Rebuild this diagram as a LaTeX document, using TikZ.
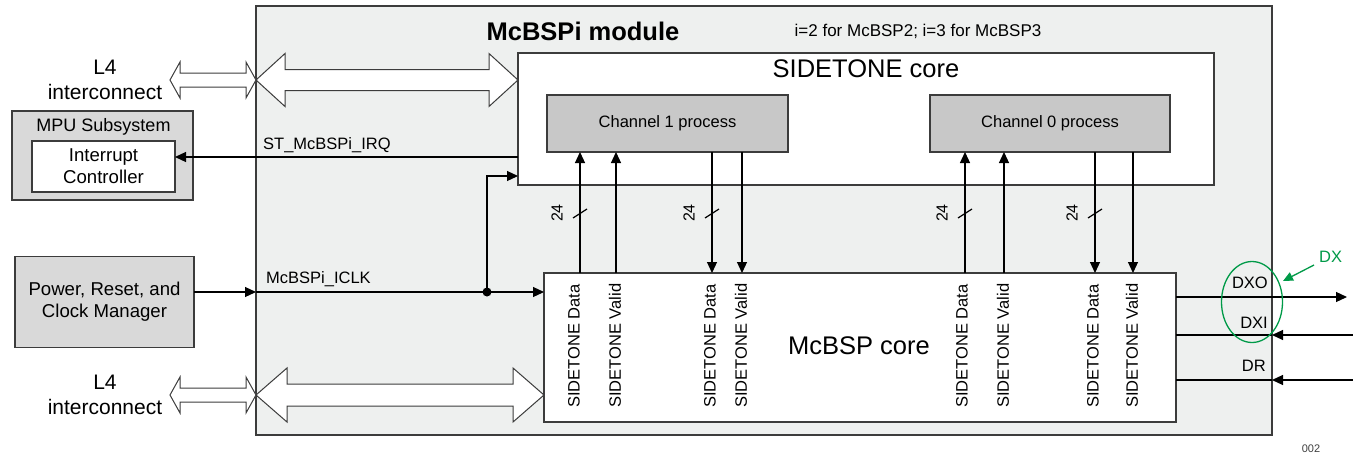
\documentclass[tikz,border=0pt]{standalone}
\usepackage{fontspec}
\setmainfont{Liberation Sans}
\usetikzlibrary{arrows.meta}
\definecolor{modfill}{RGB}{238,240,239}
\definecolor{chanfill}{RGB}{200,200,200}
\definecolor{sysfill}{RGB}{217,217,217}
\definecolor{bord}{RGB}{60,60,60}
\definecolor{dxgreen}{RGB}{0,154,72}
\newcommand\dblarrow[6]{% x1 x2 y headlen headhalf shafthalf
  \draw[bord, fill=white, line width=1pt, line join=miter]
    (#1,#3) -- (#1+#4,#3-#5) -- (#1+#4,#3-#6) -- (#2-#4,#3-#6) -- (#2-#4,#3-#5)
    -- (#2,#3) -- (#2-#4,#3+#5) -- (#2-#4,#3+#6) -- (#1+#4,#3+#6) -- (#1+#4,#3+#5) -- cycle;}
\begin{document}
\begin{tikzpicture}[x=1pt,y=-1pt,
  box/.style={draw=bord, line width=1.2pt, inner sep=0pt, outer sep=0pt},
  arr/.style={-{Triangle[length=11pt,width=10pt]}, line width=1.2pt, black},
  sm/.style={font=\fontsize{16.5}{20}\selectfont, inner sep=0pt},
  md/.style={font=\fontsize{18.6}{22}\selectfont, inner sep=0pt, align=center},
  lg/.style={font=\fontsize{21}{25}\selectfont, inner sep=0pt, align=center},
  big/.style={font=\fontsize{25.5}{30}\selectfont, inner sep=0pt},
  vlab/.style={font=\fontsize{16.5}{20}\selectfont, inner sep=0pt, rotate=90, anchor=west},
  nlab/.style={font=\fontsize{16}{19}\selectfont, inner sep=0pt, rotate=90},
]
\useasboundingbox (0,0) rectangle (1353,458);
\fill[white] (0,0) rectangle (1353,458);

% main module
\node[box, fill=modfill, minimum width=1016pt, minimum height=429pt] (module) at (764,220.5) {};
\node[font=\bfseries\fontsize{25.5}{30}\selectfont, inner sep=0pt] (title) at (583,31) {McBSPi module};
\node[font=\fontsize{17}{20}\selectfont, inner sep=0pt] (inote) at (918,31) {i=2 for McBSP2; i=3 for McBSP3};

% sidetone core
\node[box, fill=white, minimum width=696pt, minimum height=132pt] (side) at (866,119) {};
\node[big] (sidet) at (866,69) {SIDETONE core};
\node[box, fill=chanfill, minimum width=241pt, minimum height=57pt, font=\fontsize{16.5}{20}\selectfont] (ch1) at (667.5,123.5) {Channel 1 process};
\node[box, fill=chanfill, minimum width=240pt, minimum height=57pt, font=\fontsize{16.5}{20}\selectfont] (ch0) at (1050,123.5) {Channel 0 process};

% McBSP core
\node[box, fill=white, minimum width=632pt, minimum height=149pt] (core) at (860,347.5) {};
\node[big] (coret) at (859,346) {McBSP core};

% left side boxes
\node[box, fill=sysfill, minimum width=181pt, minimum height=89pt] (mpu) at (102.5,155.5) {};
\node[md, font=\fontsize{18}{22}\selectfont] (mput) at (103.5,127) {MPU Subsystem};
\node[box, fill=white, minimum width=143pt, minimum height=51pt, md] (intc) at (103.5,166.5) {Interrupt\\Controller};
\node[box, fill=sysfill, minimum width=179pt, minimum height=91pt, md] (power) at (104.5,302) {Power, Reset, and\\Clock Manager};

\node[lg] (l4a) at (105,80) {L4\\interconnect};
\node[lg] (l4b) at (105,395) {L4\\interconnect};

% wide double arrows
\dblarrow{170}{256}{80}{10}{18}{7}
\dblarrow{256}{518}{80}{29}{26.5}{10.5}
\dblarrow{170}{256}{395}{10}{18}{7}
\dblarrow{256}{544}{395}{31}{27}{11}

% IRQ
\coordinate (irq) at (0,157);
\draw[arr] (side.west |- irq) -- (intc.east |- irq);
\node[sm, anchor=base west] (irqt) at (263,149) {ST\_McBSPi\_IRQ};

% clock
\coordinate (clk) at (0,292);
\coordinate (dot) at (487,292);
\coordinate (bend) at (487,176);
\draw[arr] (power.east |- clk) -- (module.west |- clk);
\draw[arr] (module.west |- clk) -- (core.west |- clk);
\draw[arr] (dot) -- (bend) -- (side.west |- bend);
\fill (dot) circle (4.5pt);
\node[sm, anchor=base west] (clkt) at (266,283) {McBSPi\_ICLK};

% vertical signal arrows
\coordinate (u1) at (580,0);
\coordinate (u2) at (616,0);
\coordinate (d1) at (712,0);
\coordinate (d2) at (742,0);
\coordinate (u3) at (965,0);
\coordinate (u4) at (1004,0);
\coordinate (d3) at (1095,0);
\coordinate (d4) at (1133,0);
\draw[arr] (core.north -| u1) -- (ch1.south -| u1);
\draw[arr] (core.north -| u2) -- (ch1.south -| u2);
\draw[arr] (ch1.south -| d1) -- (core.north -| d1);
\draw[arr] (ch1.south -| d2) -- (core.north -| d2);
\draw[arr] (core.north -| u3) -- (ch0.south -| u3);
\draw[arr] (core.north -| u4) -- (ch0.south -| u4);
\draw[arr] (ch0.south -| d3) -- (core.north -| d3);
\draw[arr] (ch0.south -| d4) -- (core.north -| d4);

% bus width marks
\foreach \x/\n in {580/a,712/b,965/c,1095/d}{
  \draw[line width=1.2pt] (\x-7,218) -- (\x+7,209);
  \node[nlab] (w\n) at (\x-23,213) {24};
}

% vertical labels inside McBSP core
\node[vlab] (l1) at (574,408) {SIDETONE Data};
\node[vlab] (l2) at (615,408) {SIDETONE Valid};
\node[vlab] (l3) at (710,408) {SIDETONE Data};
\node[vlab] (l4) at (741,408) {SIDETONE Valid};
\node[vlab] (l5) at (962,408) {SIDETONE Data};
\node[vlab] (l6) at (1003,408) {SIDETONE Valid};
\node[vlab] (l7) at (1093,408) {SIDETONE Data};
\node[vlab] (l8) at (1132,408) {SIDETONE Valid};

% right side serial pins
\coordinate (dxo) at (1347,297);
\coordinate (dxi) at (1353,335);
\coordinate (dr) at (1353,380);
\draw[arr] (core.east |- dxo) -- (dxo);
\draw[line width=1.2pt] (core.east |- dxi) -- (module.east |- dxi);
\draw[arr] (dxi) -- (module.east |- dxi);
\draw[line width=1.2pt] (core.east |- dr) -- (module.east |- dr);
\draw[arr] (dr) -- (module.east |- dr);
\node[sm, anchor=base east] (dxot) at (1268,288) {DXO};
\node[sm, anchor=base east] (dxit) at (1268,328) {DXI};
\node[sm, anchor=base east] (drt) at (1266,371) {DR};

% DX highlight
\draw[dxgreen, line width=1.3pt] (1252,302) ellipse [x radius=30.5pt, y radius=40.5pt];
\node[sm, text=dxgreen, anchor=base west] (dxt) at (1319,262) {DX};
\coordinate (dxa) at (1314,265);
\coordinate (dxb) at (1283,281);
\draw[dxgreen, line width=1.3pt, -{Triangle[length=10pt,width=9pt]}] (dxa) -- (dxb);

\node[font=\fontsize{11}{13}\selectfont, text=black!75, inner sep=0pt] (fig) at (1311,449) {002};
\end{tikzpicture}
\end{document}
